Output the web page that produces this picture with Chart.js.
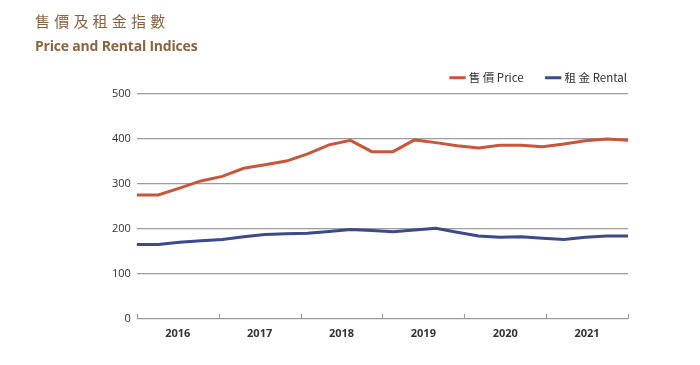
<!DOCTYPE html>
<html>
<head>
<meta charset="utf-8">
<script src="https://cdn.jsdelivr.net/npm/chart.js@4.4.1/dist/chart.umd.min.js"></script>
<style>
  body { margin: 0; background: #fff; }
  #wrap { position: relative; width: 700px; height: 365px; }
  #title1 { position: absolute; left: 35px; top: 10px; font: 15px "Noto Sans CJK TC", sans-serif; letter-spacing: 4.2px; color: #8a6440; }
  #title2 { position: absolute; left: 35px; top: 36px; font: bold 14px "Open Sans", sans-serif; color: #8a6440; letter-spacing: -0.2px; }
  canvas { position: absolute; left: 0; top: 0; }
</style>
</head>
<body>
<div id="wrap">
  <canvas id="indexChart" width="700" height="365"></canvas>
  <div id="title1">售價及租金指數</div>
  <div id="title2">Price and Rental Indices</div>
</div>
<script>
const years = ["2016", "2017", "2018", "2019", "2020", "2021"]
const quarters = years.flatMap(y => ["Q1", "Q2", "Q3", "Q4"].map(q => y + q))

const priceIndex = [275, 275, 290, 306, 316, 334, 342, 350, 366, 386, 396, 371,
                    371, 397, 391, 384, 379, 385, 385, 382, 388, 395, 399, 396]
const rentalIndex = [165, 165, 170, 173, 176, 182, 187, 189, 190, 194, 198, 196,
                     193, 197, 201, 192, 184, 181, 182, 179, 176, 181, 184, 184]

const gridGrey = "#9c9c9c"

// small year-boundary ticks that point up from the zero line
const yearTicks = {
  id: "yearTicks",
  afterDraw(chart) {
    const xs = chart.scales.years
    const base = chart.scales.y.getPixelForValue(0)
    const c = chart.ctx
    c.save()
    c.strokeStyle = gridGrey
    c.lineWidth = 1.2
    for (let i = 0; i <= years.length; i++) {
      const px = Math.round(xs.getPixelForValue(i - 0.5)) + 0.5
      c.beginPath()
      c.moveTo(px, base)
      c.lineTo(px, base - 5)
      c.stroke()
    }
    c.restore()
  }
}

const ctx = document.getElementById("indexChart")

new Chart(ctx, {
  type: "line",
  data: {
    labels: quarters,
    datasets: [
      {
        label: "售 價 Price",
        data: priceIndex,
        borderColor: "#c9563b",
        backgroundColor: "#c9563b",
        borderWidth: 3,
        pointRadius: 0,
        tension: 0,
      },
      {
        label: "租 金 Rental",
        data: rentalIndex,
        borderColor: "#3b4a8c",
        backgroundColor: "#3b4a8c",
        borderWidth: 3,
        pointRadius: 0,
        tension: 0,
      },
    ],
  },
  options: {
    responsive: false,
    animation: false,
    layout: { padding: { left: 106, right: 49, top: 48, bottom: 25 } },
    plugins: {
      legend: {
        position: "top",
        align: "end",
        labels: {
          usePointStyle: true,
          pointStyle: "line",
          boxWidth: 11,
          padding: 24,
          color: "#333",
          font: { family: "'Noto Sans CJK TC', 'Open Sans', sans-serif", size: 11.5 },
        },
      },
      tooltip: { enabled: false },
    },
    scales: {
      x: {
        display: false,
        offset: false,
      },
      years: {
        type: "category",
        labels: years,
        position: "bottom",
        offset: true,
        grid: { display: false },
        border: { display: false },
        ticks: {
          color: "#333",
          padding: 0,
          font: { family: "'Open Sans', sans-serif", size: 11, weight: "bold" },
        },
      },
      y: {
        min: 0,
        max: 500,
        ticks: {
          stepSize: 100,
          padding: 6,
          color: "#333",
          font: { family: "'Open Sans', sans-serif", size: 11 },
        },
        grid: { color: gridGrey, lineWidth: 1.2, drawTicks: false },
        border: { display: false },
      },
      // empty right-hand spacer so the legend can reach the plot's right edge
      spacer: {
        type: "linear",
        position: "right",
        grid: { display: false, drawTicks: false },
        border: { display: false },
        ticks: { display: false },
        afterFit(scale) { scale.width = 23 },
      },
    },
  },
  plugins: [yearTicks],
})
</script>
</body>
</html>
